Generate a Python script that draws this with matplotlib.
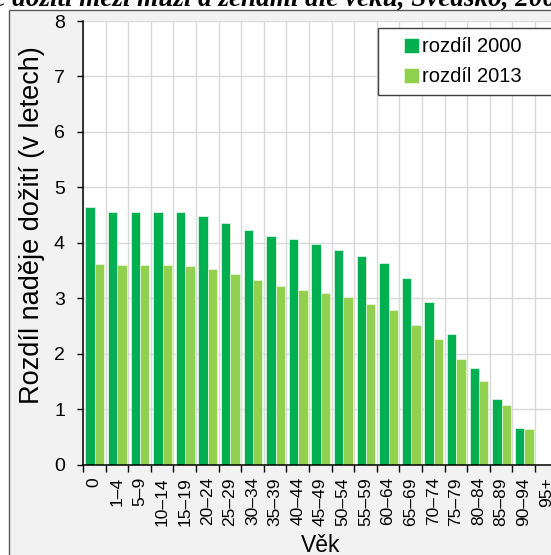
import numpy as np
import matplotlib.pyplot as plt
from matplotlib.patches import Rectangle

plt.rcParams['font.family'] = ['Liberation Sans', 'DejaVu Sans']

# age groups and male-female life expectancy gap (years)
vek = ['0', '1–4', '5–9', '10–14', '15–19', '20–24', '25–29', '30–34',
       '35–39', '40–44', '45–49', '50–54', '55–59', '60–64', '65–69',
       '70–74', '75–79', '80–84', '85–89', '90–94', '95+']
rozdil_2000 = [4.64, 4.55, 4.55, 4.55, 4.55, 4.49, 4.35, 4.23, 4.13, 4.07,
               3.98, 3.87, 3.76, 3.63, 3.36, 2.94, 2.35, 1.74, 1.18, 0.66, np.nan]
rozdil_2013 = [3.62, 3.60, 3.60, 3.60, 3.58, 3.53, 3.43, 3.32, 3.22, 3.15,
               3.10, 3.03, 2.90, 2.79, 2.52, 2.26, 1.91, 1.50, 1.08, 0.64, np.nan]

fig = plt.figure(figsize=(5.51, 5.55), dpi=100, facecolor='white')

# chart area background with border
fig.patches.append(Rectangle((9 / 551, -0.1), 1.2, 1.1 - 10 / 555,
                             transform=fig.transFigure, facecolor='#f2f2f2',
                             edgecolor='#595959', linewidth=1.0, zorder=-10))

fig.text(0.458, 1 - 6 / 555,
         'Rozdíl naděje dožití mezi muži a ženami dle věku, Švédsko, 2000 a 2013',
         family='Liberation Serif', weight='bold', style='italic',
         fontsize=19.5, ha='center', va='baseline')

ax = fig.add_axes([83 / 551, 1 - 464.5 / 555, 474.6 / 551, 443.5 / 555])
ax.set_facecolor('white')

x = np.arange(len(vek))
w = 0.415
ax.bar(x - w / 2 + 0.02, rozdil_2000, width=w, color='#00b050',
       edgecolor='#e8f7ee', linewidth=0.5, label='rozdíl 2000', zorder=3)
ax.bar(x + w / 2 + 0.02, rozdil_2013, width=w, color='#92d050',
       edgecolor='#eef8e4', linewidth=0.5, label='rozdíl 2013', zorder=3)

ax.set_xlim(-0.5, len(vek) - 0.5)
ax.set_ylim(0, 8)
ax.set_yticks(range(0, 9))

# ticks and vertical gridlines at category boundaries, labels at centres
ax.set_xticks(np.arange(len(vek) + 1) - 0.5)
ax.set_xticklabels([])
ax.set_xticks(x, minor=True)
ax.set_xticklabels(vek, minor=True, rotation=90, fontsize=12.5)
ax.tick_params(axis='x', which='major', length=5, width=1, direction='out')
ax.tick_params(axis='x', which='minor', length=0, pad=9)
ax.tick_params(axis='y', length=4, width=1, direction='out', pad=9,
               labelsize=14)

ax.grid(True, which='major', color='#d9d9d9', linewidth=1, zorder=0)
ax.set_axisbelow(True)

for s in ['top', 'right']:
    ax.spines[s].set_visible(False)
for s in ['left', 'bottom']:
    ax.spines[s].set_linewidth(1.1)
    ax.spines[s].set_zorder(4)

ax.set_ylabel('Rozdíl naděje dožití (v letech)', fontsize=19.5)
ax.yaxis.set_label_coords(-0.080, 0.54)
ax.set_xlabel('Věk', fontsize=16.5, labelpad=6)

# legend box
ax.add_patch(Rectangle((0.6216, 0.8331), 0.38, 0.1504, transform=ax.transAxes,
                       facecolor='white', edgecolor='#404040', linewidth=1,
                       zorder=5, clip_on=False))
ax.legend(loc='center', bbox_to_anchor=(0.800, 0.908), frameon=False,
          fontsize=14.5, handlelength=0.75, handleheight=0.75,
          handletextpad=0.15, labelspacing=0.55, borderpad=0).set_zorder(6)

fig.savefig('out.png', dpi=100, facecolor='white')
